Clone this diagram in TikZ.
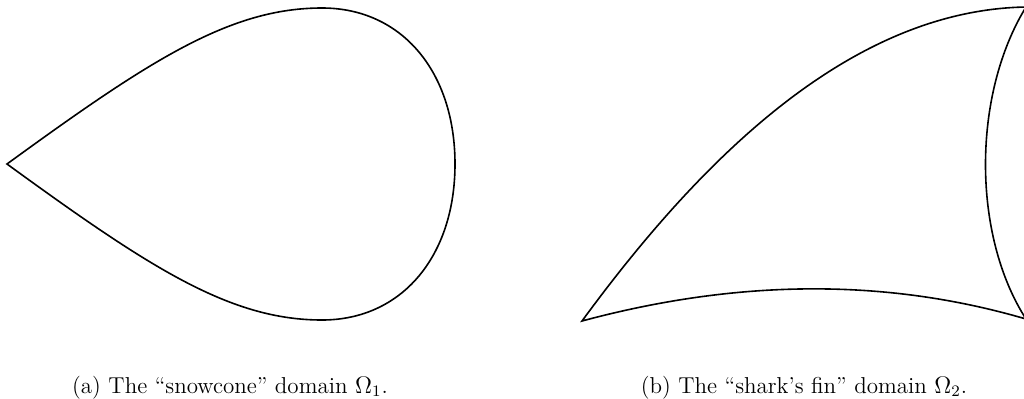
\documentclass[tikz,border=0pt]{standalone}
\begin{document}
\begin{tikzpicture}[x=0.5pt,y=-0.5pt,
  boundary/.style={line width=0.8pt,line join=miter},
  captext/.style={inner sep=0pt,anchor=base,font=\fontsize{11.5}{13}\selectfont}]
\useasboundingbox (0,0) rectangle (1024,398);
\begin{scope}
\clip (0,0) rectangle (1024,398);
% snowcone
\draw[boundary] (7,164) .. controls (150,60) and (230,8) .. (322,8)
  .. controls (402,8) and (455,72) .. (455,164)
  .. controls (455,256) and (402,320) .. (322,320)
  .. controls (230,320) and (150,268) .. (7,164) -- cycle;
% shark's fin
\draw[boundary] (582,321) .. controls (700,160) and (850,10) .. (1026,7)
  .. controls (972,95) and (972,235) .. (1026,319)
  .. controls (886,278) and (738,279) .. (582,321) -- cycle;
\end{scope}
\node[captext] (capa) at (230,393) {(a) The ``snowcone'' domain $\Omega_1$.};
\node[captext] (capb) at (804,393) {(b) The ``shark's fin'' domain $\Omega_2$.};
\end{tikzpicture}
\end{document}
